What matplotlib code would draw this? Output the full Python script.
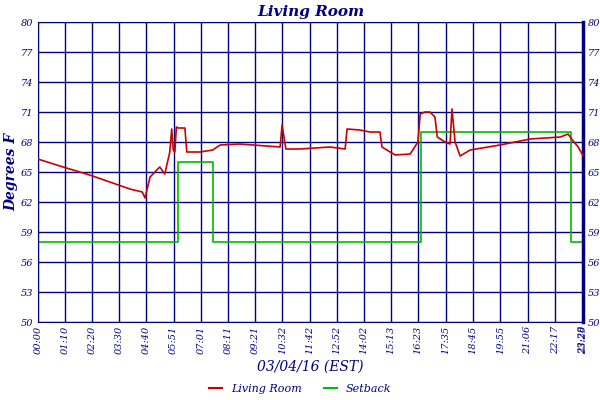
import matplotlib
matplotlib.use("Agg")
import matplotlib.pyplot as plt

NAVY = "#000080"

# minutes since midnight
room_t = [0, 57, 134, 186, 238, 270, 277, 290, 315, 328, 341, 346, 350, 354, 358, 362,
          380, 385, 419, 452, 471, 522, 626, 631, 641, 677, 755, 794, 799, 832, 858,
          884, 889, 923, 962, 982, 988, 1000, 1013, 1026, 1032, 1052, 1065, 1070, 1078,
          1091, 1117, 1194, 1272, 1350, 1370, 1381, 1396, 1409]
room_v = [66.3, 65.6, 64.7, 64.0, 63.3, 63.0, 62.4, 64.5, 65.5, 64.8, 67.0, 69.3, 67.2,
          67.0, 69.5, 69.4, 69.4, 67.0, 67.0, 67.2, 67.7, 67.8, 67.5, 69.7, 67.3, 67.3,
          67.5, 67.3, 69.3, 69.2, 69.0, 69.0, 67.5, 66.7, 66.8, 68.0, 70.8, 71.0, 71.0,
          70.5, 68.5, 68.0, 67.8, 71.3, 68.0, 66.6, 67.2, 67.7, 68.3, 68.5, 68.8, 68.2,
          67.5, 66.6]
setback_t = [0, 362, 362, 452, 452, 990, 990, 1378, 1378, 1409]
setback_v = [58, 58, 66, 66, 58, 58, 69, 69, 58, 58]

x_ticks = [0, 70, 140, 210, 280, 351, 421, 491, 561, 632, 702, 772, 842, 913, 983,
           1055, 1125, 1195, 1266, 1337, 1408, 1409]
x_labels = ["00:00", "01:10", "02:20", "03:30", "04:40", "05:51", "07:01", "08:11",
            "09:21", "10:32", "11:42", "12:52", "14:02", "15:13", "16:23", "17:35",
            "18:45", "19:55", "21:06", "22:17", "23:28", "23:29"]
y_ticks = [50, 53, 56, 59, 62, 65, 68, 71, 74, 77, 80]

font = dict(family="DejaVu Serif", style="italic", color=NAVY)

fig = plt.figure(figsize=(6, 4), dpi=100)
ax = fig.add_axes([0.063, 0.195, 0.909, 0.75])
ax.plot(setback_t, setback_v, color="#00bb00", lw=1.2, zorder=2)
ax.plot(room_t, room_v, color="#cc0000", lw=1.2, zorder=3)
ax.set_xlim(0, 1409)
ax.set_ylim(50, 80)
ax.set_yticks(y_ticks)
ax.set_yticklabels([str(v) for v in y_ticks], fontsize=7, **font)
ax.set_xticks(x_ticks)
ax.set_xticklabels(x_labels, rotation=90, fontsize=7, **font)
ax.tick_params(length=0, labelright=True, right=False, pad=3)
ax.grid(True, color=NAVY, lw=1)
ax.set_axisbelow(True)
for s in ax.spines.values():
    s.set_color(NAVY)
ax.spines["right"].set_linewidth(2.5)
ax.set_title("Living Room", fontsize=11, pad=4, fontweight="bold", **font)
ax.set_ylabel("Degrees F", fontsize=10, labelpad=2, fontweight="bold", **font)
ax.set_xlabel("03/04/16 (EST)", fontsize=10, labelpad=4, **font)

h1, = ax.plot([], [], color="#cc0000", lw=1.5, label="Living Room")
h2, = ax.plot([], [], color="#00bb00", lw=1.5, label="Setback")
leg = fig.legend(handles=[h1, h2], loc="lower center", ncol=2, frameon=False,
                 bbox_to_anchor=(0.5, -0.01), handlelength=1.2,
                 prop=dict(family="DejaVu Serif", style="italic", size=8))
for t in leg.get_texts():
    t.set_color(NAVY)

fig.savefig("out.png", dpi=100)
